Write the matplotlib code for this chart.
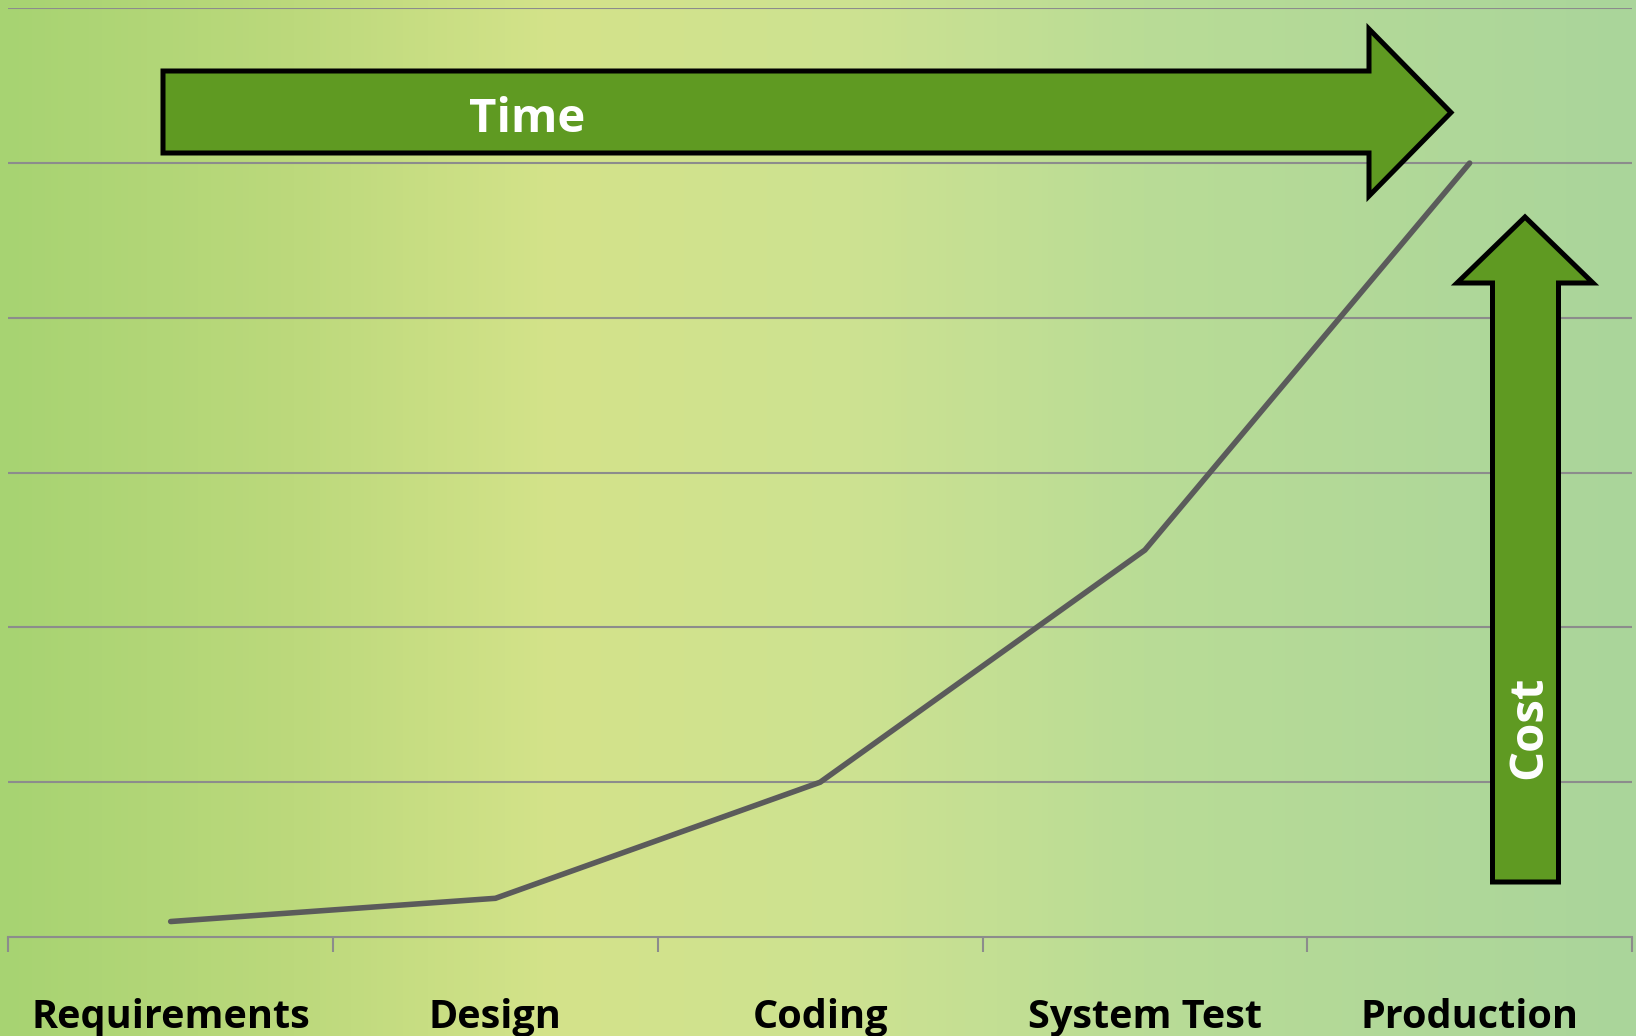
import matplotlib.pyplot as plt
import numpy as np
from matplotlib.patches import Polygon
from matplotlib.colors import LinearSegmentedColormap

# data
stages = ["Requirements", "Design", "Coding", "System Test", "Production"]
cost = [1, 2.5, 10, 25, 50]

W, H = 1636, 1036
fig = plt.figure(figsize=(W / 100, H / 100), dpi=100)

# background: horizontal gradient
bg = fig.add_axes([0, 0, 1, 1], zorder=0)
stops = [(0.0, "#a7d372"), (0.18, "#bcd97c"), (0.34, "#d4e38a"),
         (0.52, "#cde291"), (0.70, "#b9dc96"), (1.0, "#aad59b")]
cmap = LinearSegmentedColormap.from_list("bg", stops)
bg.imshow(np.linspace(0, 1, 512)[None, :], aspect="auto", cmap=cmap,
          extent=[0, 1, 0, 1])
bg.axis("off")

# main axes
x0, x1 = 8.3, 1632
ytop, ybot = 8.3, 937
ax = fig.add_axes([x0 / W, 1 - ybot / H, (x1 - x0) / W, (ybot - ytop) / H], zorder=1)
ax.set_facecolor("none")
xs = np.arange(len(stages))
ax.plot(xs, cost, color="#5b5b5b", linewidth=4.0, solid_capstyle="round",
        solid_joinstyle="miter", zorder=3)
ax.set_xlim(-0.5, len(stages) - 0.5)
ax.set_ylim(0, 60)
ax.set_yticks(np.arange(10, 61, 10))
ax.yaxis.grid(True, color="#8c8c8c", linewidth=1.5)
ax.tick_params(axis="y", length=0, labelleft=False)
ax.set_xticks(np.append(xs - 0.5, len(stages) - 0.5))
ax.set_xticklabels([])
ax.tick_params(axis="x", length=10.8, width=1.5, color="#8c8c8c", direction="out")
for s in ["top", "left", "right"]:
    ax.spines[s].set_visible(False)
ax.spines["bottom"].set_color("#8c8c8c")
ax.spines["bottom"].set_linewidth(1.5)
for i, name in enumerate(stages):
    ax.text(i, -0.087, name, transform=ax.get_xaxis_transform(), ha="center",
            va="center", fontsize=28.5, fontweight="bold", family="Open Sans",
            color="black")


def px(pts):
    return [(x / W, 1 - y / H) for x, y in pts]


green = "#5f9a22"
# Time arrow
time_pts = [(163, 71), (1369, 71), (1369, 29), (1451, 112.5), (1369, 196),
            (1369, 153), (163, 153)]
fig.add_artist(Polygon(px(time_pts), closed=True, facecolor=green,
                       edgecolor="black", linewidth=3.6, joinstyle="miter",
                       transform=fig.transFigure, zorder=4))
fig.text(527 / W, 1 - 119 / H, "Time", ha="center", va="center", fontsize=34,
         fontweight="bold", family="Open Sans", color="white", zorder=5)

# Cost arrow
cost_pts = [(1492.5, 882), (1492.5, 283), (1457, 283), (1525, 217), (1593, 283),
            (1558.5, 283), (1558.5, 882)]
fig.add_artist(Polygon(px(cost_pts), closed=True, facecolor=green,
                       edgecolor="black", linewidth=3.6, joinstyle="miter",
                       transform=fig.transFigure, zorder=4))
fig.text(1529 / W, 1 - 727 / H, "Cost", ha="center", va="center", fontsize=34,
         fontweight="bold", family="Open Sans", color="white", rotation=90,
         zorder=5)

fig.savefig("out.png", dpi=100)
plt.close()
